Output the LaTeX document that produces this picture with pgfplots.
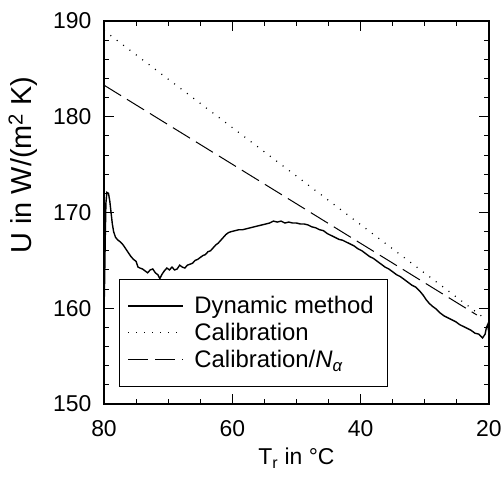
\documentclass[border=0pt]{standalone}
\usepackage{pgfplots}
\pgfplotsset{compat=1.18}
\usepackage{fontspec}
\setmainfont{Liberation Sans}

\pgfplotstableread{
T U
80.0 159.6
79.9 163.0
79.8 167.5
79.7 171.0
79.55 172.1
79.3 172.0
79.1 171.2
78.9 170.0
78.7 168.8
78.5 168.0
78.2 167.4
77.8 167.1
77.4 166.9
77.0 166.6
76.6 166.2
76.2 165.8
75.8 165.4
75.4 165.1
75.0 164.9
74.7 164.3
74.4 164.2
74.0 164.1
73.6 163.9
73.2 163.7
72.8 164.0
72.4 164.1
72.0 163.7
71.6 163.5
71.3 163.1
71.0 163.5
70.6 163.9
70.2 164.2
69.8 164.0
69.4 164.3
69.0 164.0
68.6 164.1
68.2 164.5
67.8 164.3
67.4 164.2
67.0 164.5
66.6 164.6
66.2 164.7
65.8 165.0
65.4 165.1
65.0 165.3
64.6 165.5
64.2 165.6
63.8 165.9
63.4 166.0
63.0 166.3
62.6 166.6
62.2 166.8
61.8 167.1
61.4 167.4
61.0 167.7
60.6 167.9
60.2 168.0
59.6 168.1
59.0 168.2
58.4 168.2
57.8 168.3
57.2 168.4
56.6 168.5
56.0 168.6
55.4 168.7
54.8 168.8
54.2 168.9
53.6 169.1
53.0 169.0
52.4 169.1
51.8 168.9
51.2 169.0
50.6 168.9
50.0 168.9
49.4 168.8
48.8 168.8
48.2 168.7
47.6 168.5
47.0 168.4
46.4 168.2
45.8 168.1
45.2 167.8
44.6 167.6
44.0 167.4
43.4 167.2
42.8 167.1
42.2 166.9
41.6 166.7
41.0 166.5
40.4 166.2
39.8 166.0
39.2 165.7
38.6 165.4
38.0 165.2
37.4 164.9
36.8 164.6
36.2 164.3
35.6 164.1
35.0 163.8
34.4 163.5
33.8 163.3
33.2 163.0
32.6 162.7
32.0 162.4
31.4 162.2
30.8 161.8
30.3 161.4
29.8 160.9
29.3 160.5
28.8 160.2
28.2 159.9
27.6 159.5
27.0 159.2
26.4 159.0
25.8 158.8
25.2 158.6
24.6 158.3
24.0 158.1
23.4 157.9
22.8 157.7
22.2 157.4
21.6 157.3
21.0 156.9
20.6 157.3
20.4 158.0
20.2 158.3
20.05 157.6
}\dynamic

\begin{document}
\begin{tikzpicture}
\begin{axis}[
    scale only axis,
    width=385bp, height=383bp,
    xmin=20, xmax=80, ymin=150, ymax=190,
    x dir=reverse,
    xtick={20,40,60,80}, ytick={150,160,170,180,190},
    minor x tick num=3, minor y tick num=4,
    tick align=inside,
    major tick length=10bp, minor tick length=5bp,
    every tick/.style={black, line width=0.9bp},
    axis line style={line width=1.2bp},
    /pgf/number format/assume math mode=true,
    ticklabel style={font=\fontsize{23}{26}\selectfont},
    xticklabel style={yshift=-13bp},
    yticklabel style={xshift=-9bp},
    xlabel={T\textsubscript{r} in °C},
    ylabel={U in W/(m\textsuperscript{2} K)},
    xlabel style={font=\fontsize{23}{26}\selectfont, at={(axis description cs:0.5,-0.141)}, anchor=center},
    ylabel style={font=\fontsize{29}{32}\selectfont, at={(axis description cs:-0.21,0.624)}, anchor=center},
    legend cell align=left,
    legend image code/.code={\path[draw=none] (-9bp,0bp) -- (64bp,0bp);\draw[#1] (0bp,0bp) -- (55bp,0bp);},
    legend style={at={(rel axis cs:0.039,0.326)}, anchor=north west,
        draw=black, line width=0.8bp, font=\fontsize{24}{26}\selectfont,
        inner xsep=0bp, inner ysep=15bp, row sep=4bp},
]
\addplot[black, line width=1.4bp] table[x=T, y=U] {\dynamic};
\addlegendentry{Dynamic method\rule{12bp}{0pt}}
\addplot[black, line width=1.2bp, dash pattern=on 1bp off 7bp] coordinates {(80,189.0) (21,159.1)};
\addlegendentry{Calibration}
\addplot[black, line width=1.0bp, dash pattern=on 20bp off 7bp] coordinates {(80,183.3) (21.9,159.3)};
\addlegendentry{Calibration/{\itshape N}\textsubscript{\itshape α}\rule[-29bp]{0pt}{29bp}}
\end{axis}
\pgfresetboundingbox
\path[use as bounding box] ([xshift=-104bp,yshift=-79bp]current axis.south west) rectangle ++(503bp,483bp);
\end{tikzpicture}
\end{document}
